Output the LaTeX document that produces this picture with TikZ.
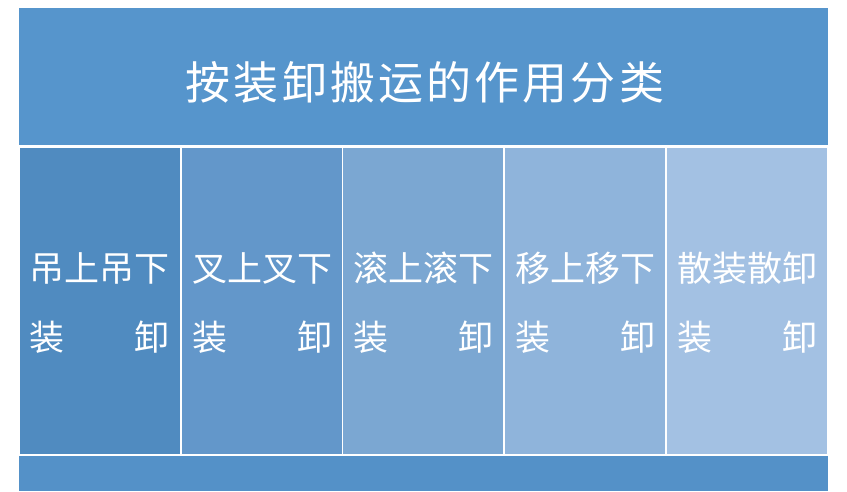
\documentclass[tikz,border=0pt]{standalone}
\usepackage{fontspec}
\newfontfamily\cjk{Noto Sans CJK SC}
\newfontfamily\cjktitle[LetterSpace=7]{Noto Sans CJK SC}
\definecolor{bannerc}{RGB}{86,149,204}
\definecolor{barc}{RGB}{84,145,200}
\definecolor{colA}{RGB}{80,139,192}
\definecolor{colB}{RGB}{99,151,202}
\definecolor{colC}{RGB}{123,167,210}
\definecolor{colD}{RGB}{143,180,219}
\definecolor{colE}{RGB}{163,193,227}
\tikzset{
  block/.style={draw=none, inner sep=0pt, outer sep=0pt},
  coltext/.style={inner sep=0pt, text=white, font=\cjk\fontsize{35pt}{40pt}\selectfont},
  titletext/.style={inner sep=0pt, text=white, font=\cjktitle\fontsize{45pt}{50pt}\selectfont},
}
\begin{document}
\begin{tikzpicture}[x=1pt,y=-1pt]
\useasboundingbox (0,0) rectangle (847,491);
\fill[white] (0,0) rectangle (847,491);
% banner
\node[block, fill=bannerc, minimum width=809pt, minimum height=137pt] (banner) at (423.5,76.5) {};
\node[titletext] (title) at (425,82) {按装卸搬运的作用分类};
% columns
\node[block, fill=colA, minimum width=160pt, minimum height=306pt] (c1) at (100,301) {};
\node[block, fill=colB, minimum width=160pt, minimum height=306pt] (c2) at (262,301) {};
\node[block, fill=colC, minimum width=160pt, minimum height=306pt] (c3) at (423,301) {};
\node[block, fill=colD, minimum width=160pt, minimum height=306pt] (c4) at (585,301) {};
\node[block, fill=colE, minimum width=160pt, minimum height=306pt] (c5) at (747,301) {};
% bottom bar
\node[block, fill=barc, minimum width=809pt, minimum height=35pt] (bar) at (423.5,473.5) {};
% column texts
\node[coltext] (t1a) at (100,268) {吊上吊下};
\node[coltext] (t1b) at (100,337) {\makebox[140pt][s]{装\hfill 卸}};
\node[coltext] (t2a) at (262,268) {叉上叉下};
\node[coltext] (t2b) at (262,337) {\makebox[140pt][s]{装\hfill 卸}};
\node[coltext] (t3a) at (423,268) {滚上滚下};
\node[coltext] (t3b) at (423,337) {\makebox[140pt][s]{装\hfill 卸}};
\node[coltext] (t4a) at (585,268) {移上移下};
\node[coltext] (t4b) at (585,337) {\makebox[140pt][s]{装\hfill 卸}};
\node[coltext] (t5a) at (747,268) {散装散卸};
\node[coltext] (t5b) at (747,337) {\makebox[140pt][s]{装\hfill 卸}};
\end{tikzpicture}
\end{document}
